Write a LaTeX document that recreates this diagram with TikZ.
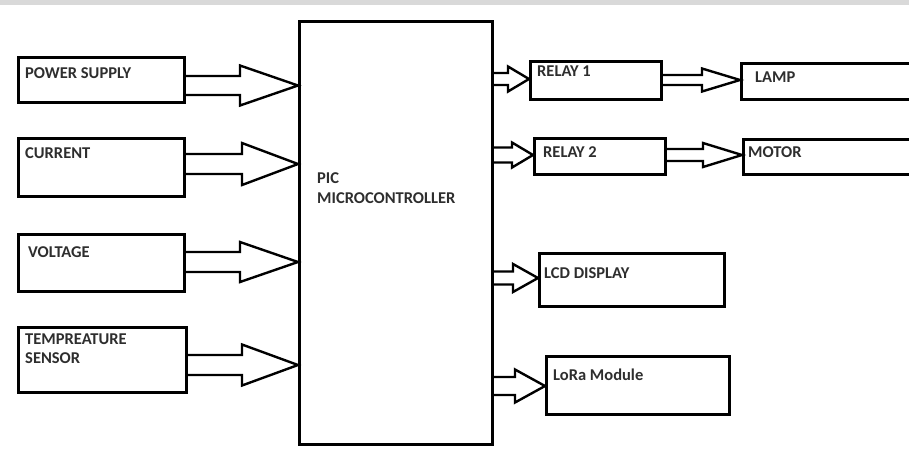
\documentclass[tikz,border=0pt]{standalone}
\usepackage{fontspec}
\setmainfont{Carlito}
\usetikzlibrary{calc}
\definecolor{txt}{HTML}{2E2E2E}
\definecolor{band}{HTML}{D9D9D9}
\tikzset{
  box/.style={draw=black, line width=2.8pt, rectangle, inner sep=0pt, anchor=north west, fill=white},
  lbl/.style={anchor=base west, inner sep=0pt, text=txt, font=\fontsize{16.5}{19}\selectfont\bfseries},
  arrowline/.style={draw=black, line width=2.4pt, line join=miter},
}
% #1 start anchor, #2 end anchor, #3 head length, #4 centre y, #5 shaft half height, #6 head half height
\newcommand\blockarrow[6]{%
  \draw[arrowline] let \p1=(#1), \p2=(#2), \n1={\x2-#3} in
    (\x1,{#4-#5}) -- (\n1,{#4-#5}) -- (\n1,{#4-#6}) -- (\x2,{#4})
    -- (\n1,{#4+#6}) -- (\n1,{#4+#5}) -- (\x1,{#4+#5});%
}
\begin{document}
\begin{tikzpicture}[x=1pt, y=-1pt]
\useasboundingbox (0,0) rectangle (909,448);
\fill[band] (0,0) rectangle (909,5);

% left column
\node[box, minimum width=166pt, minimum height=45pt] (ps) at (17,56) {};
\node[box, minimum width=166pt, minimum height=58pt] (cur) at (17,137) {};
\node[box, minimum width=166pt, minimum height=57pt] (volt) at (17,233) {};
\node[box, minimum width=168pt, minimum height=65pt] (temp) at (17,326) {};

% microcontroller
\node[box, minimum width=193pt, minimum height=423pt] (mc) at (298,20) {};

% right side
\node[box, minimum width=131pt, minimum height=38pt] (r1) at (529,60) {};
\node[box, minimum width=185pt, minimum height=36pt] (lamp) at (740,62) {};
\node[box, minimum width=131pt, minimum height=36pt] (r2) at (533,137) {};
\node[box, minimum width=185pt, minimum height=35pt] (motor) at (742,138) {};
\node[box, minimum width=185pt, minimum height=53pt] (lcd) at (538,252) {};
\node[box, minimum width=183pt, minimum height=58pt] (lora) at (545,355) {};

% labels
\node[lbl] (tps) at ([shift={(8,22)}]ps.north west) {POWER SUPPLY};
\node[lbl] (tcur) at ([shift={(8,21)}]cur.north west) {CURRENT};
\node[lbl] (tvolt) at ([shift={(11,24)}]volt.north west) {VOLTAGE};
\node[lbl] (ttemp1) at ([shift={(8,18)}]temp.north west) {TEMPREATURE};
\node[lbl] (ttemp2) at ([shift={(8,37)}]temp.north west) {SENSOR};
\node[lbl] (tmc1) at ([shift={(19,163)}]mc.north west) {PIC};
\node[lbl] (tmc2) at ([shift={(19,183)}]mc.north west) {MICROCONTROLLER};
\node[lbl] (tr1) at ([shift={(8,16)}]r1.north west) {RELAY 1};
\node[lbl] (tlamp) at ([shift={(15,20)}]lamp.north west) {LAMP};
\node[lbl] (tr2) at ([shift={(10,20)}]r2.north west) {RELAY 2};
\node[lbl] (tmotor) at ([shift={(6,19)}]motor.north west) {MOTOR};
\node[lbl] (tlcd) at ([shift={(6,26)}]lcd.north west) {LCD DISPLAY};
\node[lbl] (tlora) at ([shift={(8,25)}]lora.north west) {LoRa Module};

% block arrows
\blockarrow{ps.east}{mc.west}{58}{85.5}{9.5}{20}
\blockarrow{cur.east}{mc.west}{56}{164}{10}{21}
\blockarrow{volt.east}{mc.west}{58}{262}{10}{20}
\blockarrow{temp.east}{mc.west}{56}{365}{10}{20.5}
\blockarrow{mc.east}{r1.west}{21}{79}{6}{12.5}
\blockarrow{r1.east}{lamp.west}{38}{80}{5}{11.5}
\blockarrow{mc.east}{r2.west}{21}{155}{7.5}{12.5}
\blockarrow{r2.east}{motor.west}{39}{155}{6}{12}
\blockarrow{mc.east}{lcd.west}{25}{278}{6.5}{14}
\blockarrow{mc.east}{lora.west}{30}{386}{9}{16.5}
\end{tikzpicture}
\end{document}
